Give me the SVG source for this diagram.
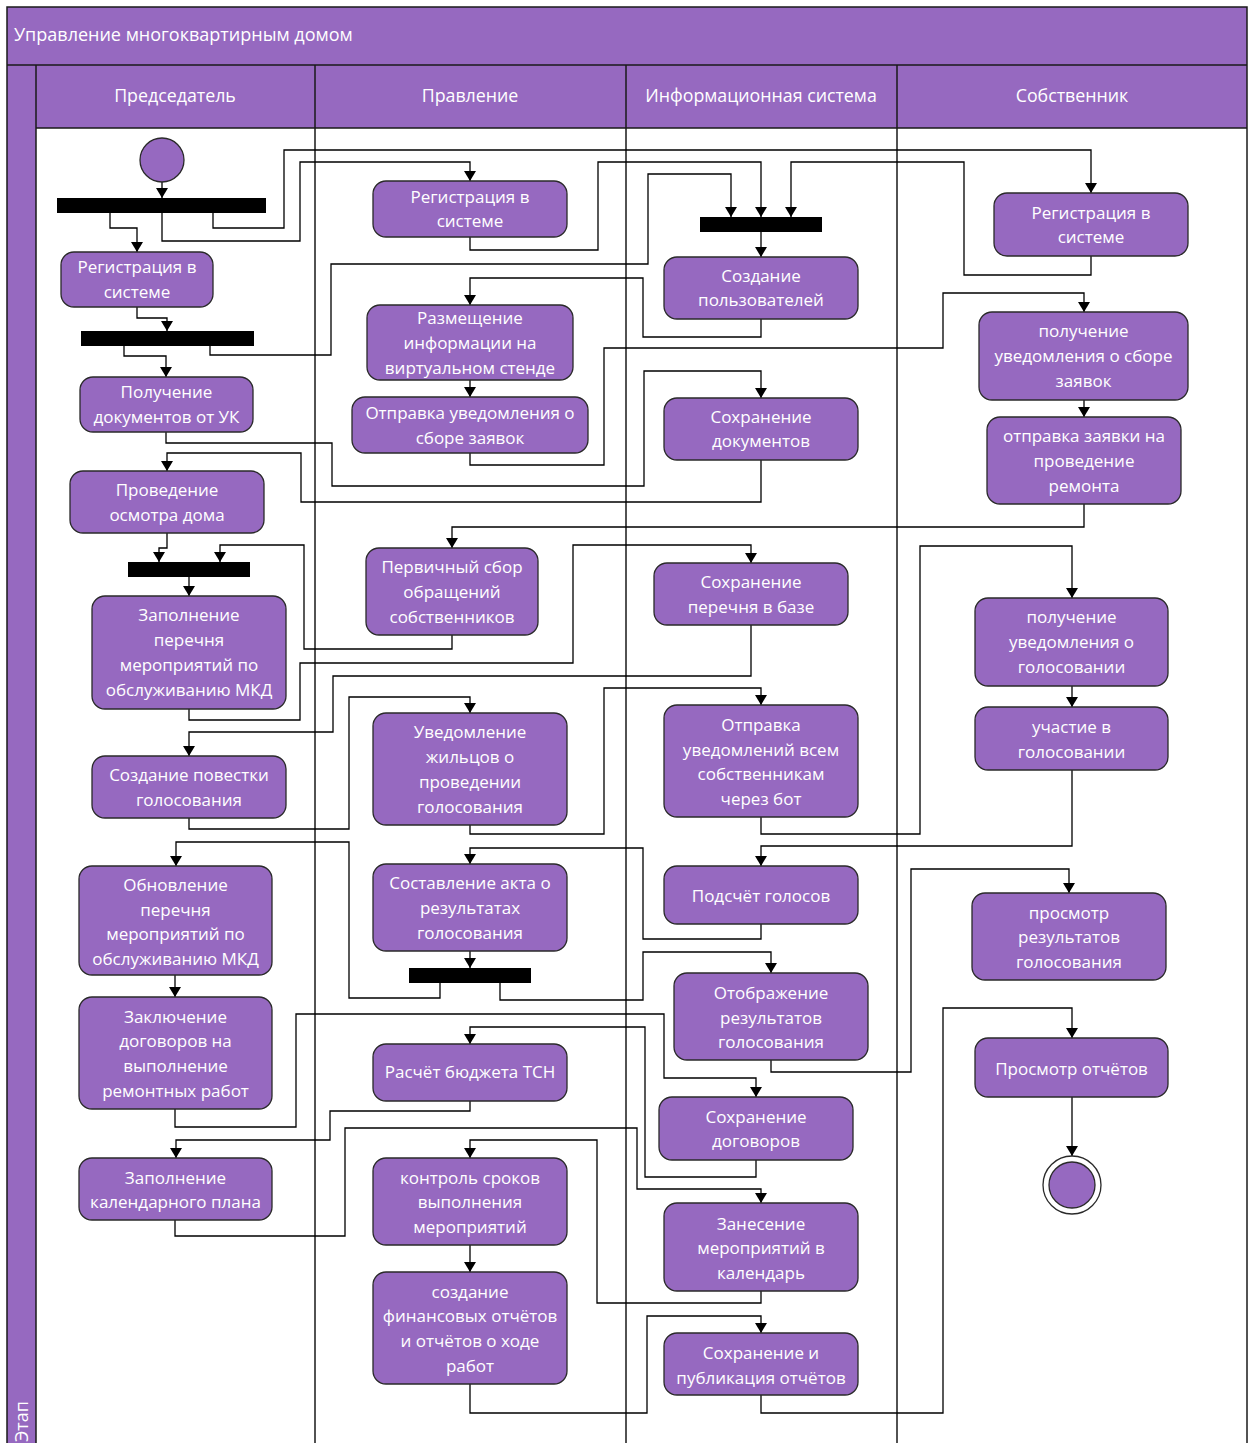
<svg xmlns="http://www.w3.org/2000/svg" width="1253" height="1443" viewBox="0 0 1253 1443">
<defs>
<marker id="arr" viewBox="0 0 10 12" refX="10" refY="6" markerWidth="10" markerHeight="12" orient="auto" markerUnits="userSpaceOnUse">
<path d="M0,0 L10,6 L0,12 z" fill="#000"/>
</marker>
</defs>
<style>
.band{fill:#9669c0;stroke:none}
.frame{fill:none;stroke:#1a1a1a;stroke-width:1.5}
.hdr{font-family:"Open Sans","Noto Sans",sans-serif;font-size:17.8px;fill:#fff;text-anchor:middle}
.ttl{font-family:"Open Sans","Noto Sans",sans-serif;font-size:18px;fill:#fff}
.node rect{fill:#9669c0;stroke:#2a2a2a;stroke-width:1.3}
.node text{font-family:"Open Sans","Noto Sans",sans-serif;font-size:17px;fill:#fff;text-anchor:middle}
.bar{fill:#000}
.conn path{fill:none;stroke:#000;stroke-width:1.3;marker-end:url(#arr)}
</style>
<rect x="0" y="0" width="1253" height="1443" fill="#fff"/>
<g id="swimlanes">
<rect class="band" x="7" y="7" width="1240" height="58"/>
<rect class="band" x="7" y="65" width="29" height="1378"/>
<rect class="band" x="36" y="65" width="1211" height="63"/>
<rect class="frame" x="7" y="7" width="1240" height="1440"/>
<path class="frame" d="M7,65 H1247 M36,128 H1247 M36,65 V1443 M315,65 V1443 M626,65 V1443 M897,65 V1443"/>
<text class="ttl" x="14" y="41">Управление многоквартирным домом</text>
<text class="hdr" x="175" y="102">Председатель</text>
<text class="hdr" x="470" y="102">Правление</text>
<text class="hdr" x="761" y="102">Информационная система</text>
<text class="hdr" x="1072" y="102">Собственник</text>
<text class="ttl" transform="translate(28,1442) rotate(-90)">Этап</text>
</g>
<g class="conn" id="connectors">
<path d="M162,182 V198"/>
<path d="M110,213 V228 H137 V252"/>
<path d="M162,213 V241 H300 V162 H470 V181"/>
<path d="M213,213 V228 H284 V150 H1091 V193"/>
<path d="M137,307 V318 H167 V331"/>
<path d="M470,237 V250 H598 V162 H761 V217"/>
<path d="M1091,256 V275 H964 V162 H791 V217"/>
<path d="M124,346 V356 H166 V377"/>
<path d="M210,346 V355 H331 V264 H648 V174 H731 V217"/>
<path d="M761,232 V257"/>
<path d="M761,319 V337 H643 V278 H470 V305"/>
<path d="M470,380 V397"/>
<path d="M470,453 V465 H604 V348 H943 V293 H1084 V312"/>
<path d="M1084,400 V417"/>
<path d="M166,432 V443 H332 V486 H644 V371 H761 V398"/>
<path d="M761,460 V502 H301 V453 H167 V471"/>
<path d="M1084,504 V527 H452 V548"/>
<path d="M167,533 V548 H159 V562"/>
<path d="M452,635 V649 H304 V545 H220 V562"/>
<path d="M189,577 V596"/>
<path d="M189,709 V720 H300 V663 H573 V545 H751 V563"/>
<path d="M751,625 V676 H333 V732 H189 V756"/>
<path d="M189,818 V829 H349 V697 H470 V713"/>
<path d="M470,825 V834 H604 V688 H761 V705"/>
<path d="M761,817 V834 H920 V546 H1072 V598"/>
<path d="M1072,686 V707"/>
<path d="M1072,770 V846 H761 V866"/>
<path d="M761,924 V939 H643 V848 H470 V864"/>
<path d="M470,951 V968"/>
<path d="M440,983 V998 H349 V842 H176 V866"/>
<path d="M500,983 V1000 H643 V952 H771 V973"/>
<path d="M175,975 V997"/>
<path d="M771,1060 V1072 H911 V869 H1069 V893"/>
<path d="M175,1109 V1127 H296 V1014 H664 V1078 H756 V1097"/>
<path d="M470,1101 V1111 H330 V1140 H176 V1158"/>
<path d="M756,1160 V1177 H645 V1027 H470 V1044"/>
<path d="M175,1220 V1236 H345 V1128 H637 V1189 H761 V1203"/>
<path d="M761,1291 V1303 H597 V1140 H470 V1158"/>
<path d="M470,1245 V1272"/>
<path d="M470,1384 V1413 H647 V1316 H761 V1333"/>
<path d="M761,1395 V1413 H943 V1008 H1072 V1038"/>
<path d="M1072,1097 V1156"/>
</g>
<g id="start"><circle cx="162" cy="160" r="22" fill="#9669c0" stroke="#2a2a2a" stroke-width="1.3"/></g>
<g id="fork1"><rect class="bar" x="57" y="198" width="209" height="15"/></g>
<g id="fork2"><rect class="bar" x="81" y="331" width="173" height="15"/></g>
<g id="fork3"><rect class="bar" x="128" y="562" width="122" height="15"/></g>
<g id="join1"><rect class="bar" x="700" y="217" width="122" height="15"/></g>
<g id="fork4"><rect class="bar" x="409" y="968" width="122" height="15"/></g>
<g id="end"><circle cx="1072" cy="1185" r="29" fill="#fff" stroke="#2a2a2a" stroke-width="1.3"/><circle cx="1072" cy="1185" r="23" fill="#9669c0" stroke="#2a2a2a" stroke-width="1.3"/></g>

<g class="node" id="p_reg"><rect x="61" y="252" width="152" height="55" rx="13"/><text x="137" y="273">Регистрация в</text><text x="137" y="298">системе</text></g>
<g class="node" id="p_docs"><rect x="80" y="377" width="173" height="55" rx="13"/><text x="166.5" y="398">Получение</text><text x="166.5" y="423">документов от УК</text></g>
<g class="node" id="p_inspect"><rect x="70" y="471" width="194" height="62" rx="13"/><text x="167" y="496">Проведение</text><text x="167" y="521">осмотра дома</text></g>
<g class="node" id="p_list"><rect x="92" y="596" width="194" height="113" rx="13"/><text x="189" y="621">Заполнение</text><text x="189" y="646">перечня</text><text x="189" y="671">мероприятий по</text><text x="189" y="696">обслуживанию МКД</text></g>
<g class="node" id="p_agenda"><rect x="92" y="756" width="194" height="62" rx="13"/><text x="189" y="781">Создание повестки</text><text x="189" y="806">голосования</text></g>
<g class="node" id="p_update"><rect x="79" y="866" width="193" height="109" rx="13"/><text x="175.5" y="891">Обновление</text><text x="175.5" y="916">перечня</text><text x="175.5" y="940">мероприятий по</text><text x="175.5" y="965">обслуживанию МКД</text></g>
<g class="node" id="p_contracts"><rect x="79" y="997" width="193" height="112" rx="13"/><text x="175.5" y="1023">Заключение</text><text x="175.5" y="1047">договоров на</text><text x="175.5" y="1072">выполнение</text><text x="175.5" y="1097">ремонтных работ</text></g>
<g class="node" id="p_calendar"><rect x="79" y="1158" width="193" height="62" rx="13"/><text x="175.5" y="1184">Заполнение</text><text x="175.5" y="1208">календарного плана</text></g>

<g class="node" id="b_reg"><rect x="373" y="181" width="194" height="56" rx="13"/><text x="470" y="203">Регистрация в</text><text x="470" y="227">системе</text></g>
<g class="node" id="b_post"><rect x="367" y="305" width="206" height="75" rx="13"/><text x="470" y="324">Размещение</text><text x="470" y="349">информации на</text><text x="470" y="374">виртуальном стенде</text></g>
<g class="node" id="b_notify"><rect x="352" y="397" width="236" height="56" rx="13"/><text x="470" y="419">Отправка уведомления о</text><text x="470" y="444">сборе заявок</text></g>
<g class="node" id="b_collect"><rect x="366" y="548" width="172" height="87" rx="13"/><text x="452" y="573">Первичный сбор</text><text x="452" y="598">обращений</text><text x="452" y="623">собственников</text></g>
<g class="node" id="b_vote_notify"><rect x="373" y="713" width="194" height="112" rx="13"/><text x="470" y="738">Уведомление</text><text x="470" y="763">жильцов о</text><text x="470" y="788">проведении</text><text x="470" y="813">голосования</text></g>
<g class="node" id="b_act"><rect x="373" y="864" width="194" height="87" rx="13"/><text x="470" y="889">Составление акта о</text><text x="470" y="914">результатах</text><text x="470" y="939">голосования</text></g>
<g class="node" id="b_budget"><rect x="373" y="1044" width="194" height="57" rx="13"/><text x="470" y="1078">Расчёт бюджета ТСН</text></g>
<g class="node" id="b_control"><rect x="373" y="1158" width="194" height="87" rx="13"/><text x="470" y="1184">контроль сроков</text><text x="470" y="1208">выполнения</text><text x="470" y="1233">мероприятий</text></g>
<g class="node" id="b_reports"><rect x="373" y="1272" width="194" height="112" rx="13"/><text x="470" y="1298">создание</text><text x="470" y="1322">финансовых отчётов</text><text x="470" y="1347">и отчётов о ходе</text><text x="470" y="1372">работ</text></g>

<g class="node" id="s_users"><rect x="664" y="257" width="194" height="62" rx="13"/><text x="761" y="282">Создание</text><text x="761" y="306">пользователей</text></g>
<g class="node" id="s_docs"><rect x="664" y="398" width="194" height="62" rx="13"/><text x="761" y="423">Сохранение</text><text x="761" y="447">документов</text></g>
<g class="node" id="s_list"><rect x="654" y="563" width="194" height="62" rx="13"/><text x="751" y="588">Сохранение</text><text x="751" y="613">перечня в базе</text></g>
<g class="node" id="s_bot"><rect x="664" y="705" width="194" height="112" rx="13"/><text x="761" y="731">Отправка</text><text x="761" y="756">уведомлений всем</text><text x="761" y="780">собственникам</text><text x="761" y="805">через бот</text></g>
<g class="node" id="s_count"><rect x="664" y="866" width="194" height="58" rx="13"/><text x="761" y="902">Подсчёт голосов</text></g>
<g class="node" id="s_show"><rect x="674" y="973" width="194" height="87" rx="13"/><text x="771" y="999">Отображение</text><text x="771" y="1024">результатов</text><text x="771" y="1048">голосования</text></g>
<g class="node" id="s_contracts"><rect x="659" y="1097" width="194" height="63" rx="13"/><text x="756" y="1123">Сохранение</text><text x="756" y="1147">договоров</text></g>
<g class="node" id="s_calendar"><rect x="664" y="1203" width="194" height="88" rx="13"/><text x="761" y="1230">Занесение</text><text x="761" y="1254">мероприятий в</text><text x="761" y="1279">календарь</text></g>
<g class="node" id="s_publish"><rect x="664" y="1333" width="194" height="62" rx="13"/><text x="761" y="1359">Сохранение и</text><text x="761" y="1384">публикация отчётов</text></g>

<g class="node" id="o_reg"><rect x="994" y="193" width="194" height="63" rx="13"/><text x="1091" y="219">Регистрация в</text><text x="1091" y="243">системе</text></g>
<g class="node" id="o_recv"><rect x="979" y="312" width="209" height="88" rx="13"/><text x="1083.5" y="337">получение</text><text x="1083.5" y="362">уведомления о сборе</text><text x="1083.5" y="387">заявок</text></g>
<g class="node" id="o_request"><rect x="987" y="417" width="194" height="87" rx="13"/><text x="1084" y="442">отправка заявки на</text><text x="1084" y="467">проведение</text><text x="1084" y="492">ремонта</text></g>
<g class="node" id="o_vote_recv"><rect x="975" y="598" width="193" height="88" rx="13"/><text x="1071.5" y="623">получение</text><text x="1071.5" y="648">уведомления о</text><text x="1071.5" y="673">голосовании</text></g>
<g class="node" id="o_vote"><rect x="975" y="707" width="193" height="63" rx="13"/><text x="1071.5" y="733">участие в</text><text x="1071.5" y="758">голосовании</text></g>
<g class="node" id="o_results"><rect x="972" y="893" width="194" height="87" rx="13"/><text x="1069" y="919">просмотр</text><text x="1069" y="943">результатов</text><text x="1069" y="968">голосования</text></g>
<g class="node" id="o_reports"><rect x="975" y="1038" width="193" height="59" rx="13"/><text x="1071.5" y="1075">Просмотр отчётов</text></g>
</svg>
